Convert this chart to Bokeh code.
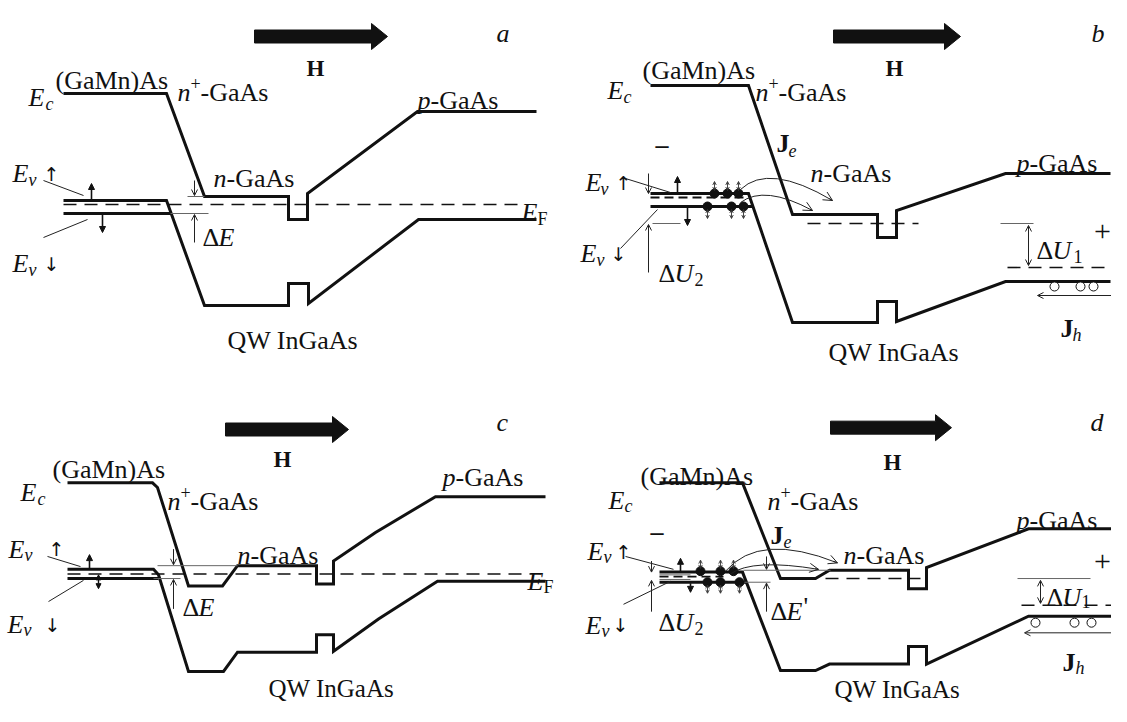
import numpy as np
from bokeh.plotting import figure
from bokeh.models import Range1d, Arrow, NormalHead, OpenHead, ColumnDataSource
from bokeh.core.properties import value
from bokeh.embed import file_html
from bokeh.resources import INLINE

# ------------------------------------------------------------------
# Data: band-diagram vertices (pixel frame)
# ------------------------------------------------------------------
# panel a
A_EC_X = [63, 166, 204, 288, 288, 307, 307, 417, 536]
A_EC_Y = [93, 93, 196, 196, 219, 219, 193, 111, 111]
A_EV_X = [63, 166, 204, 288, 288, 308, 308, 418, 536]
A_EV_Y = [200, 200, 305, 305, 283, 283, 303, 219, 219]
A_EVD_X = [63, 170]
A_EVD_Y = [213, 213]
# panel b
B_EC_X = [650, 748, 792, 877, 877, 896, 896, 1005, 1110]
B_EC_Y = [85, 85, 214, 214, 237, 237, 210, 173, 173]
B_EV_X = [650, 748, 792, 877, 877, 896, 896, 1005, 1110]
B_EV_Y = [193, 193, 322, 322, 301, 301, 321, 281, 281]
B_EVD_X = [650, 753]
B_EVD_Y = [206, 206]
# panel c
C_EC_X = [67, 152, 157, 188, 222, 237, 316, 316, 333, 333, 375, 435, 545]
C_EC_Y = [493, 493, 498, 605, 605, 583, 583, 603, 603, 578, 547, 508, 508]
C_EV_X = [67, 153, 158, 188, 223, 237, 316, 316, 333, 333, 378, 437, 545]
C_EV_Y = [587, 587, 593, 698, 698, 677, 677, 658, 658, 676, 641, 600, 600]
C_EVD_X = [67, 158]
C_EVD_Y = [597, 597]
# panel d
D_EC_X = [659, 742, 780, 815, 829, 908, 908, 926, 926, 1028, 1120]
D_EC_Y = [493, 493, 597, 597, 588, 588, 608, 608, 585, 543, 543]
D_EV_X = [659, 742, 780, 815, 829, 908, 908, 926, 926, 1028, 1120]
D_EV_Y = [590, 590, 697, 697, 690, 690, 671, 671, 690, 638, 638]
D_EVD_X = [659, 746]
D_EVD_Y = [601, 601]

# dashed levels (Fermi / quasi-Fermi)
DASH_X0 = [63, 807, 1007, 67, 825, 1021]
DASH_X1 = [518, 918, 1110, 541, 920, 1120]
DASH_Y = [204, 223, 267, 592, 597, 626]
SHORTDASH_X0 = [650, 659]
SHORTDASH_X1 = [745, 723]
SHORTDASH_Y = [197, 595]

# field arrows H
H_X0 = [254, 833, 225, 830]
H_X1 = [387, 960, 348, 951]
H_Y = [36, 36, 435, 433]

# electrons (filled) and holes (open)
E_X = [714, 727, 738, 707, 731, 743, 700, 720, 733, 707, 720, 739]
E_Y = [193, 193, 193, 206, 206, 206, 589, 589, 589, 601, 601, 601]
E_SIDE = [-1, -1, -1, 1, 1, 1, -1, -1, -1, 1, 1, 1]
HOLE_X = [1054, 1080, 1093, 1035, 1074, 1091]
HOLE_Y = [286, 286, 286, 645, 645, 645]

# curved tunnelling arrows (quadratic: start, control, end)
ARC_X0 = [740, 740, 725, 730]
ARC_Y0 = [189, 202, 589, 592]
ARC_CX = [768, 764, 759, 752]
ARC_CY = [162, 184, 546, 575]
ARC_X1 = [832, 812, 837, 818]
ARC_Y1 = [200, 210, 580, 587]

# leader lines to E_v labels
LEAD_X0 = [43, 43, 625, 620, 47, 48, 625, 623]
LEAD_Y0 = [180, 237, 178, 248, 573, 622, 573, 625]
LEAD_X1 = [83, 87, 670, 657, 80, 83, 673, 670]
LEAD_Y1 = [195, 219, 192, 209, 584, 599, 587, 600]

# thin guide lines
GUIDE_X0 = [187, 170, 652, 1000, 157, 153, 743, 743, 1017, 659, 659]
GUIDE_Y0 = [196, 213, 223, 223, 583, 597, 588, 601, 597, 593, 598]
GUIDE_X1 = [204, 208, 680, 1033, 237, 180, 830, 770, 1090, 690, 690]
GUIDE_Y1 = [196, 213, 223, 223, 583, 597, 588, 601, 597, 593, 598]

# thin single-headed arrows (energy gaps, currents)
TA_X0 = [194, 194, 648, 648, 1120, 173, 173, 651, 651, 766, 766, 1120]
TA_Y0 = [180, 242, 173, 272, 295, 565, 630, 578, 633, 573, 633, 656]
TA_X1 = [194, 194, 648, 648, 1037, 173, 173, 651, 651, 766, 766, 1024]
TA_Y1 = [195, 214, 193, 224, 295, 582, 598, 590, 599, 587, 602, 656]

# thin double-headed arrows (Delta U1)
DA_X0 = [1028, 1040]
DA_Y0 = [225, 599]
DA_X1 = [1028, 1040]
DA_Y1 = [265, 624]

# spin arrows (filled heads)
SP_X0 = [91, 102, 677, 687, 89, 680, 690]
SP_Y0 = [201, 214, 192, 207, 586, 589, 602]
SP_X1 = [91, 102, 677, 687, 89, 680, 690]
SP_Y1 = [183, 232, 176, 225, 571, 575, 612]
SPD_X = [98]
SPD_Y0 = [593]
SPD_Y1 = [608]

# ------------------------------------------------------------------
W, H = 1111, 706
p = figure(width=W, height=H, x_range=Range1d(0, W), y_range=Range1d(H, 0),
           output_backend="svg", toolbar_location=None, min_border=0,
           x_axis_location=None, y_axis_location=None)
p.grid.visible = False
p.outline_line_color = None
p.background_fill_color = "white"
p.border_fill_color = "white"

# the lower row (panels c, d) is squeezed a little so its bottom labels fit
K = 0.92


def Y(arr):
    a = np.asarray(arr, float)
    return np.where(a > 380, 360 + (a - 360) * K, a)


INK = "#111111"
GREY = "#666666"
TH = 3.0

for xs, ys in [(A_EC_X, A_EC_Y), (A_EV_X, A_EV_Y), (A_EVD_X, A_EVD_Y),
               (B_EC_X, B_EC_Y), (B_EV_X, B_EV_Y), (B_EVD_X, B_EVD_Y),
               (C_EC_X, C_EC_Y), (C_EV_X, C_EV_Y), (C_EVD_X, C_EVD_Y),
               (D_EC_X, D_EC_Y), (D_EV_X, D_EV_Y), (D_EVD_X, D_EVD_Y)]:
    p.line(xs, Y(ys), line_color=INK, line_width=TH, line_join="miter")

p.segment(x0=DASH_X0, y0=Y(DASH_Y), x1=DASH_X1, y1=Y(DASH_Y), line_color=INK,
          line_width=1.6, line_dash="13 8")
p.segment(x0=SHORTDASH_X0, y0=Y(SHORTDASH_Y), x1=SHORTDASH_X1, y1=Y(SHORTDASH_Y),
          line_color=INK, line_width=1.8, line_dash="9 5")

# field arrows as polygons
bx, by = [], []
for x0, x1, yc in zip(H_X0, H_X1, Y(H_Y)):
    xh = x1 - 16
    bx.append([x0, xh, xh, x1, xh, xh, x0])
    by.append([yc - 6.5, yc - 6.5, yc - 13, yc, yc + 13, yc + 6.5, yc + 6.5])
p.patches(bx, by, fill_color=INK, line_color=INK, line_width=1)

p.segment(x0=LEAD_X0, y0=Y(LEAD_Y0), x1=LEAD_X1, y1=Y(LEAD_Y1), line_color="#222222", line_width=1)
p.segment(x0=GUIDE_X0, y0=Y(GUIDE_Y0), x1=GUIDE_X1, y1=Y(GUIDE_Y1), line_color=GREY, line_width=1)


def arrows(x0, y0, x1, y1, color, lw, start=None, end=None):
    src = ColumnDataSource(dict(x0=x0, y0=Y(y0), x1=x1, y1=Y(y1)))
    p.add_layout(Arrow(source=src, x_start="x0", y_start="y0", x_end="x1", y_end="y1",
                       line_color=color, line_width=lw, start=start, end=end))


arrows(TA_X0, TA_Y0, TA_X1, TA_Y1, "#222222", 1,
       end=OpenHead(size=6, line_width=1, line_color="#222222"))
arrows(DA_X0, DA_Y0, DA_X1, DA_Y1, "#222222", 1,
       start=OpenHead(size=6, line_width=1, line_color="#222222"),
       end=OpenHead(size=6, line_width=1, line_color="#222222"))
arrows(SP_X0, SP_Y0, SP_X1, SP_Y1, INK, 1.6,
       end=NormalHead(size=6, fill_color=INK, line_color=INK, line_width=1))
arrows(SPD_X, SPD_Y0, SPD_X, SPD_Y1, INK, 1.4,
       start=NormalHead(size=5, fill_color=INK, line_color=INK, line_width=1),
       end=NormalHead(size=5, fill_color=INK, line_color=INK, line_width=1))

# small spin arrows next to the carriers
ex = np.array(E_X, float)
ey = np.array(E_Y, float)
es = np.array(E_SIDE, float)
arrows(ex, ey + es * 3, ex, ey + es * 12, "#333333", 0.9,
       start=OpenHead(size=3.5, line_width=0.9, line_color="#333333"),
       end=OpenHead(size=3.5, line_width=0.9, line_color="#333333"))
p.scatter(E_X, Y(E_Y), marker="circle", size=9, fill_color=INK, line_color=INK)
p.scatter(HOLE_X, Y(HOLE_Y), marker="circle", size=9, fill_color="white", line_color=INK, line_width=1)

# curved arrows
p.quadratic(x0=ARC_X0, y0=Y(ARC_Y0), x1=ARC_X1, y1=Y(ARC_Y1), cx=ARC_CX, cy=Y(ARC_CY),
            line_color="#222222", line_width=1)
ax1 = np.array(ARC_X1, float)
ay1 = np.array(ARC_Y1, float)
tx = ax1 - np.array(ARC_CX, float)
ty = ay1 - np.array(ARC_CY, float)
arrows(ax1 - 0.05 * tx, ay1 - 0.05 * ty, ax1, ay1, "#222222", 1,
       end=OpenHead(size=9, line_width=1, line_color="#222222"))

# ------------------------------------------------------------------
SERIF = "'Liberation Serif', 'Times New Roman', 'DejaVu Serif', serif"


def txt(items, size, style="normal", align="left", font=SERIF):
    p.text(x=[i[0] for i in items], y=Y([i[1] for i in items]), text=[i[2] for i in items],
           text_font=value(font), text_font_size=value(f"{size}px"),
           text_font_style=value(style), text_baseline="alphabetic",
           text_align=align, text_color=INK)


# roman, main size
txt([(55, 80, "(GaMn)As"), (200, 92, "-GaAs"), (226, 178, "-GaAs"), (430, 100, "-GaAs"),
     (227, 340, "QW InGaAs"), (202, 237, "Δ"),
     (642, 70, "(GaMn)As"), (778, 92, "-GaAs"), (823, 173, "-GaAs"), (1029, 163, "-GaAs"),
     (828, 352, "QW InGaAs"), (1036, 250, "Δ"), (658, 273, "Δ"),
     (52, 478, "(GaMn)As"), (190, 513, "-GaAs"), (250, 572, "-GaAs"), (455, 487, "-GaAs"),
     (182, 628, "Δ"),
     (640, 486, "(GaMn)As"), (790, 513, "-GaAs"), (856, 572, "-GaAs"), (1029, 534, "-GaAs"),
     (1046, 618, "Δ"), (658, 645, "Δ"), (770, 633, "Δ"),
     (803, 627, "'")], 26)
# bottom-row QW labels (slightly smaller so they stay inside the frame)
txt([(268, 716, "QW InGaAs"), (834, 718, "QW InGaAs")], 25)
txt([(1102, 231, "+"), (1102, 579, "+")], 30, "normal", "center")
# italic, main size
txt([(28, 97, "E"), (177, 92, "n"), (213, 178, "n"), (417, 100, "p"), (218, 237, "E"),
     (521, 212, "E"), (12, 173, "E"), (12, 263, "E"), (496, 33, "a"),
     (607, 90, "E"), (755, 92, "n"), (810, 173, "n"), (1016, 163, "p"), (1052, 250, "U"),
     (674, 273, "U"), (585, 182, "E"), (580, 253, "E"), (1091, 33, "b"),
     (20, 504, "E"), (167, 513, "n"), (237, 572, "n"), (442, 487, "p"), (198, 628, "E"),
     (527, 600, "E"), (8, 565, "E"), (7, 647, "E"), (496, 427, "c"),
     (608, 512, "E"), (767, 513, "n"), (843, 572, "n"), (1016, 534, "p"), (1062, 618, "U"),
     (674, 645, "U"), (786, 633, "E"), (587, 568, "E"), (585, 648, "E"), (1090, 427, "d")],
    26, "italic")
# italic subscripts
txt([(45, 103, "c"), (28, 179, "v"), (28, 269, "v"),
     (623, 96, "c"), (600, 188, "v"), (596, 259, "v"), (788, 150, "e"), (1072, 334, "h"),
     (37, 510, "c"), (24, 571, "v"), (23, 653, "v"),
     (624, 518, "c"), (603, 574, "v"), (601, 654, "v"), (783, 557, "e"), (1075, 694, "h")],
    18, "italic")
# roman small (superscripts / subscripts)
txt([(190, 83, "+"), (537, 218, "F"), (768, 83, "+"), (1073, 256, "1"), (694, 279, "2"),
     (180, 504, "+"), (543, 606, "F"), (780, 504, "+"), (1081, 622, "1"), (694, 651, "2")],
    18)
# arrows after E_v
txt([(43, 173, "↑"), (43, 263, "↓"), (615, 182, "↑"), (610, 253, "↓"),
     (48, 565, "↑"), (44, 647, "↓"), (615, 568, "↑"), (612, 648, "↓")], 19,
    font="'DejaVu Sans', sans-serif")
# bold
txt([(315, 68, "H"), (894, 68, "H"), (282, 468, "H"), (892, 471, "H")], 23, "bold", "center")
txt([(776, 143, "J"), (1060, 328, "J"), (770, 550, "J"), (1062, 688, "J"),
     (655, 144, "–"), (650, 546, "–")], 26, "bold")

open("out.html", "w").write(file_html(p, INLINE))
